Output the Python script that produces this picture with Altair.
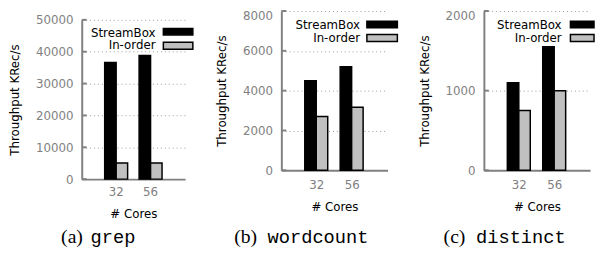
import altair as alt
import pandas as pd

# ---- data ----
cores = ["32", "56"]
series = ["StreamBox", "In-order"]

grep_streambox = [36600, 38800]
grep_inorder = [5100, 5100]
wordcount_streambox = [4500, 5200]
wordcount_inorder = [2700, 3170]
distinct_streambox = [1100, 1550]
distinct_inorder = [750, 1000]

grep_ticks = [0, 10000, 20000, 30000, 40000, 50000]
wordcount_ticks = [0, 2000, 4000, 6000, 8000]
distinct_ticks = [0, 1000, 2000]

captions = [("(a)", "grep"), ("(b)", "wordcount"), ("(c)", "distinct")]

GRAY = "#808080"
FONT = "DejaVu Sans"


def panel(sb, io, ticks, width, top_off, flush_top, xpad, cap, cap_x, leg):
    height = 162 + top_off
    df = pd.DataFrame({
        "cores": cores * 2,
        "series": [series[0]] * 2 + [series[1]] * 2,
        "value": sb + io,
    })
    ymax = ticks[-1]
    yscale = alt.Scale(domain=[0, ymax], range=[height, top_off], nice=False, zero=True)
    yaxis_kw = dict(
        values=ticks, title="Throughput KRec/s", grid=True, gridDash=[1, 3],
        gridColor="#9a9a9a", gridWidth=1, domainColor=GRAY, domainWidth=2,
        ticks=False, tickSize=0, labelColor=GRAY, labelFont=FONT, labelFontSize=12,
        labelPadding=9, titleFont=FONT, titleFontSize=12, titleColor="black",
        titleFontWeight="normal", titlePadding=14, format="d",
    )
    if flush_top:
        yaxis_kw["labelBaseline"] = {
            "condition": {"test": f"datum.value == {ymax}", "value": "top"},
            "value": "middle",
        }
    yaxis = alt.Axis(**yaxis_kw)
    bars = alt.Chart(df).mark_bar(stroke="black", strokeWidth=1.5).encode(
        x=alt.X("cores:N", sort=cores,
                scale=alt.Scale(paddingInner=0, paddingOuter=0.5),
                axis=alt.Axis(title="# Cores", labelAngle=0, ticks=False, tickSize=0,
                              domainColor=GRAY, domainWidth=2, labelColor=GRAY,
                              labelFont=FONT, labelFontSize=12, labelPadding=xpad[0],
                              titleFont=FONT, titleFontSize=12, titleColor="black",
                              titleFontWeight="normal", titlePadding=xpad[1])),
        xOffset=alt.XOffset("series:N", sort=series,
                            scale=alt.Scale(paddingInner=0, paddingOuter=0.5)),
        y=alt.Y("value:Q", scale=yscale, axis=yaxis),
        color=alt.Color("series:N", scale=alt.Scale(domain=series, range=["#000000", "#c0c0c0"]),
                        legend=None),
    )
    tick_df = pd.DataFrame({"value": ticks})
    inward = alt.Chart(tick_df).mark_rule(color=GRAY, strokeWidth=2).encode(
        y=alt.Y("value:Q", scale=yscale, axis=yaxis),
        x=alt.value(0), x2=alt.value(5),
    )
    layers = [bars, inward]
    # legend
    tx, sx1, sx2, ty, sy = leg
    for i, (name, fill) in enumerate(zip(series, ["#000000", "#c0c0c0"])):
        layers.append(
            alt.Chart(pd.DataFrame({"t": [name]})).mark_text(
                align="right", baseline="middle", font=FONT, fontSize=12, color="black"
            ).encode(text="t:N", x=alt.value(tx), y=alt.value(ty[i]))
        )
        layers.append(
            alt.Chart(pd.DataFrame({"t": [name]})).mark_rect(
                fill=fill, stroke="black", strokeWidth=1.5
            ).encode(x=alt.value(sx1), x2=alt.value(sx2), y=alt.value(sy[i][0]), y2=alt.value(sy[i][1]))
        )
    # caption
    tag, name = cap
    layers.append(
        alt.Chart(pd.DataFrame({"t": [tag]})).mark_text(
            align="left", baseline="alphabetic", font="Liberation Serif", fontSize=20, color="black"
        ).encode(text="t:N", x=alt.value(cap_x[0]), y=alt.value(236))
    )
    layers.append(
        alt.Chart(pd.DataFrame({"t": [name]})).mark_text(
            align="left", baseline="alphabetic", font="Liberation Mono", fontSize=19, color="black"
        ).encode(text="t:N", x=alt.value(cap_x[1]), y=alt.value(236))
    )
    return alt.layer(*layers).properties(width=width, height=height)


pa = panel(grep_streambox, grep_inorder, grep_ticks, 105, 9, False, (8, 11), captions[0], (-21, 9),
           (75, 83, 113, (22, 35), ((17.7, 24.3), (31.7, 39))))
pb = panel(wordcount_streambox, wordcount_inorder, wordcount_ticks, 108, 0, True, (10, 11), captions[1], (-48, -14),
           (80, 87, 118, (14, 28), ((10.5, 17), (24, 31))))
pc = panel(distinct_streambox, distinct_inorder, distinct_ticks, 108, 0, True, (10, 11), captions[2], (-41, -8),
           (79, 88, 112, (14, 28), ((10.5, 17), (24, 31))))

chart = alt.hconcat(pa, pb, pc, spacing=98, bounds="flush").properties(
    padding=0).configure_view(strokeWidth=0)

chart.save("out.html", embed_options={"renderer": "svg", "actions": False})
